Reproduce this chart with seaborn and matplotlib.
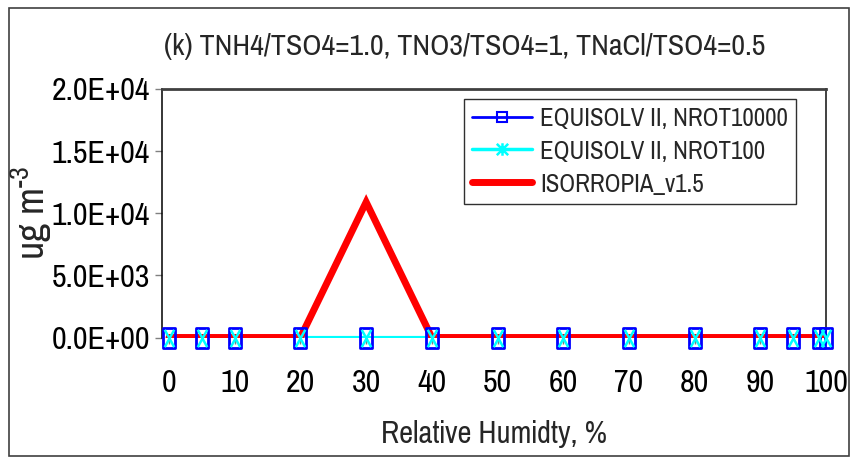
import matplotlib
matplotlib.use("Agg")
import matplotlib.pyplot as plt
import seaborn as sns
import pandas as pd
from matplotlib.path import Path
from matplotlib.lines import Line2D
from matplotlib.patches import Rectangle

# ---- data -------------------------------------------------------------
rh = [0, 5, 10, 20, 30, 40, 50, 60, 70, 80, 90, 95, 99, 100]
equisolv_nrot10000 = [0, 0, 0, 0, 0, 0, 0, 0, 0, 0, 0, 0, 0, 0]
equisolv_nrot100 = [0, 0, 0, 0, 0, 0, 0, 0, 0, 0, 0, 0, 0, 0]
isorropia_v15 = [0, 0, 0, 0, 10900, 0, 0, 0, 0, 0, 0, 0, 0, 0]

series_names = ["EQUISOLV II, NROT10000", "EQUISOLV II, NROT100", "ISORROPIA_v1.5"]
x_ticks = [0, 10, 20, 30, 40, 50, 60, 70, 80, 90, 100]
y_ticks = [0, 5000, 10000, 15000, 20000]
y_tick_labels = ["0.0E+00", "5.0E+03", "1.0E+04", "1.5E+04", "2.0E+04"]
title = "(k) TNH4/TSO4=1.0, TNO3/TSO4=1, TNaCl/TSO4=0.5"
x_label = "Relative Humidty, %"
y_label = r"ug m$^{\text{-}3}$"

df_blue = pd.DataFrame({"rh": rh, "conc": equisolv_nrot10000})
df_cyan = pd.DataFrame({"rh": rh, "conc": equisolv_nrot100})
df_red = pd.DataFrame({"rh": rh, "conc": isorropia_v15})

# ---- style ------------------------------------------------------------
sns.set_theme(style="white")
FONT = "Pragati Narrow"
plt.rcParams["font.family"] = [FONT, "Liberation Sans", "DejaVu Sans"]
plt.rcParams["mathtext.fontset"] = "custom"
plt.rcParams["mathtext.rm"] = FONT
plt.rcParams["mathtext.it"] = FONT
plt.rcParams["mathtext.default"] = "regular"

BLUE = "#0000FF"
CYAN = "#00FFFF"
RED = "#FF0000"

# tall box and tall cross markers
box_marker = Path([(-0.6, -1), (0.6, -1), (0.6, 1), (-0.6, 1), (-0.6, -1)],
                  [Path.MOVETO, Path.LINETO, Path.LINETO, Path.LINETO, Path.CLOSEPOLY])
cross_marker = Path([(-0.55, -1), (0.55, 1), (-0.55, 1), (0.55, -1)],
                    [Path.MOVETO, Path.LINETO, Path.MOVETO, Path.LINETO])
star_marker = Path([(-1, -1), (1, 1), (-1, 1), (1, -1), (0, -1.1), (0, 1.1)],
                   [Path.MOVETO, Path.LINETO, Path.MOVETO, Path.LINETO, Path.MOVETO, Path.LINETO])

W, H = 854, 463
fig = plt.figure(figsize=(W / 100, H / 100), dpi=100)
ax = fig.add_axes([162.5 / W, 1 - 337.5 / H, (826 - 162.5) / W, (337.5 - 89) / H])

# lines
sns.lineplot(data=df_blue, x="rh", y="conc", ax=ax, color=BLUE, lw=1.5, zorder=2,
             legend=False, errorbar=None)
sns.lineplot(data=df_cyan, x="rh", y="conc", ax=ax, color=CYAN, lw=3.0, zorder=2.1,
             legend=False, errorbar=None)
sns.lineplot(data=df_red, x="rh", y="conc", ax=ax, color=RED, lw=5, zorder=3,
             legend=False, errorbar=None, solid_joinstyle="miter")
# markers on top
sns.lineplot(data=df_blue, x="rh", y="conc", ax=ax, linestyle="", marker=box_marker,
             markersize=14.4, markerfacecolor="none", markeredgecolor=BLUE,
             markeredgewidth=2.0, zorder=4, legend=False, errorbar=None, clip_on=False)
sns.lineplot(data=df_cyan, x="rh", y="conc", ax=ax, linestyle="", marker=cross_marker,
             markersize=12.5, markerfacecolor="none", markeredgecolor=CYAN,
             markeredgewidth=1.8, zorder=5, legend=False, errorbar=None, clip_on=False)

ax.set_xlim(-1, 100)
ax.set_ylim(0, 20000)
ax.set_xticks(x_ticks)
ax.set_xticklabels([str(v) for v in x_ticks])
ax.set_yticks(y_ticks)
ax.set_yticklabels(y_tick_labels)

ax.tick_params(axis="x", direction="out", length=4, width=1, color="#808080",
               labelsize=25, pad=19, bottom=True)
ax.tick_params(axis="y", direction="out", length=5, width=1, color="#808080",
               labelsize=25, pad=4, left=True)
for lab in ax.get_xticklabels() + ax.get_yticklabels():
    lab.set_color("black")

ax.spines["bottom"].set_visible(False)
ax.spines["top"].set_color("#404040")
ax.spines["top"].set_linewidth(2.0)
ax.spines["right"].set_color("#404040")
ax.spines["right"].set_linewidth(1.4)
ax.spines["left"].set_color("black")
ax.spines["left"].set_linewidth(1.1)

ax.set_xlabel(x_label, fontsize=24)
ax.set_ylabel(y_label, fontsize=31)
ax.yaxis.set_label_coords(-0.163, 0.5)
ax.xaxis.set_label_coords(0.5, -0.33)

fig.text(465 / W, 1 - 46 / H, title, ha="center", va="center", fontsize=23.5)

# legend
handles = [
    Line2D([], [], color=BLUE, lw=2, marker="s", markersize=7.5,
           markerfacecolor="none", markeredgecolor=BLUE, markeredgewidth=1.5),
    Line2D([], [], color=CYAN, lw=2.5, marker=star_marker, markersize=9,
           markerfacecolor="none", markeredgecolor=CYAN, markeredgewidth=1.8),
    Line2D([], [], color=RED, lw=5, solid_capstyle="round"),
]
leg = ax.legend(handles, series_names, loc="upper left",
                bbox_to_anchor=(464 / W, 1 - 99 / H), bbox_transform=fig.transFigure,
                borderaxespad=0, fontsize=19.5, handlelength=2.2, handletextpad=0.3,
                labelspacing=0.36, borderpad=0.3, frameon=True, fancybox=False,
                framealpha=1, edgecolor="#303030")
leg.get_frame().set_linewidth(1.0)

# outer chart border
fig.patches.append(Rectangle((9 / W, 1 - 456 / H), 840 / W, 448 / H,
                             transform=fig.transFigure, fill=False,
                             edgecolor="#404040", lw=1.2))

fig.savefig("out.png", dpi=100)
